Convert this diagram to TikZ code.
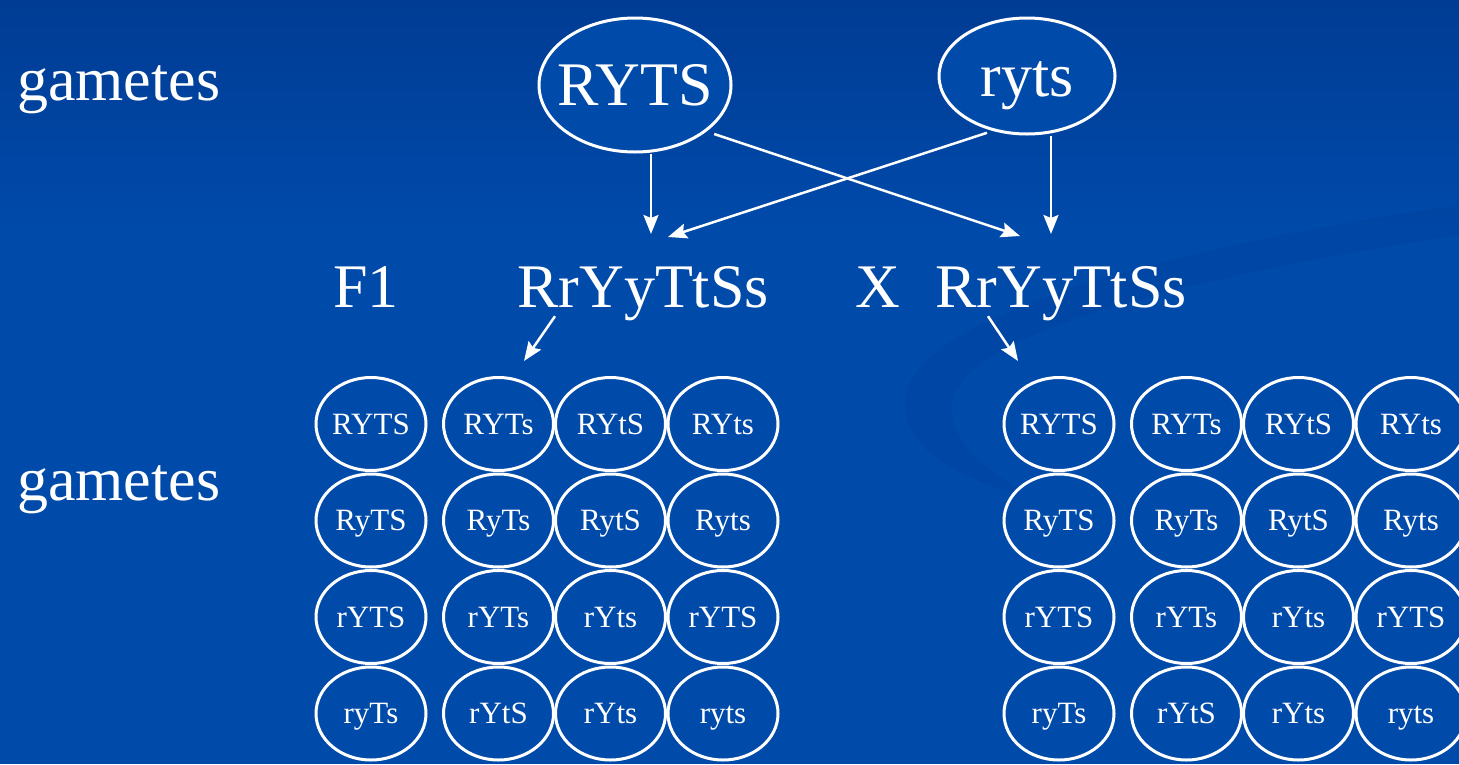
\documentclass[tikz,border=0pt]{standalone}
\usepackage{fontspec}
\setmainfont{Liberation Serif}
\usetikzlibrary{arrows.meta,shapes.geometric}
\definecolor{bgtop}{RGB}{0,60,148}
\definecolor{bgmain}{RGB}{0,74,170}
\definecolor{swirl}{RGB}{0,58,145}
\tikzset{>={Stealth[length=19pt,width=15pt,inset=3pt]},every node/.style={text=white},
  big/.style={font=\fontsize{62}{62}\selectfont,inner sep=0pt,text height=41pt,text depth=0pt},
  gam/.style={draw=white,line width=3pt,fill=bgmain,ellipse,inner sep=0pt},
  cell/.style={gam,minimum width=110pt,minimum height=93pt,inner xsep=-4pt,font=\fontsize{31}{31}\selectfont,text height=20pt,text depth=0pt},
  flow/.style={white,line width=2.5pt,->}}
\begin{document}
\begin{tikzpicture}[x=1pt,y=-1pt]
\useasboundingbox (0,0) rectangle (1459,764);
\clip (0,0) rectangle (1459,764);
\fill[bgmain] (0,0) rectangle (1459,764);
\shade[top color=bgtop,bottom color=bgmain] (0,0) rectangle (1459,230);
\fill[swirl,opacity=.22] (1459,205) .. controls (1150,250) and (910,320) .. (905,400) .. controls (902,450) and (960,480) .. (1040,500) .. controls (975,470) and (945,430) .. (952,400) .. controls (970,330) and (1200,275) .. (1459,235) -- cycle;
% parents
\node[gam,minimum width=192pt,minimum height=134pt,label={[big]center:RYTS}] (p1) at (635,85) {};
\node[gam,minimum width=176pt,minimum height=116pt,label={[big]center:ryts}] (p2) at (1027,76) {};
\node[big,anchor=base west] (lb1) at (17,100) {gametes};
\node[big,anchor=base west] (lb2) at (17,500) {gametes};
\node[big,anchor=base west] (f1) at (333,307) {F1};
\node[big,anchor=base] (f1a) at (643,307) {RrYyTtSs};
\node[big,anchor=base] (x) at (878,307) {X};
\node[big,anchor=base] (f1b) at (1061,307) {RrYyTtSs};
\coordinate (e1) at (651,234);\coordinate (e2) at (668,237);\coordinate (e3) at (1020,236);\coordinate (e4) at (1051,234);
\coordinate (ga) at (524,361);\coordinate (gb) at (1018,361);
\draw[flow] (p1.south -| e1) -- (e1);\draw[flow] (p2.south -| e4) -- (e4);
\draw[flow,shorten <=8pt] (p1.-33) -- (e3);\draw[flow,shorten <=6pt] (p2.-122) -- (e2);
\draw[flow] ([xshift=-88pt,yshift=-9pt]f1a.south) -- (ga);\draw[flow] ([xshift=-73pt,yshift=-9pt]f1b.south) -- (gb);
% gametes of the F1
\foreach \s/\dx in {a/0,b/688}
  \foreach \row [count=\r] in {{RYTS,RYTs,RYtS,RYts},{RyTS,RyTs,RytS,Ryts},{rYTS,rYTs,rYts,rYTS},{ryTs,rYtS,rYts,ryts}}
    \foreach \g [count=\c] in \row {\pgfmathsetmacro\x{{371,498.5,610.5,723}[\c-1]+\dx}
      \node[cell] (\s\r\c) at (\x,{327.5+96.5*\r}) {\g};}
\end{tikzpicture}
\end{document}
